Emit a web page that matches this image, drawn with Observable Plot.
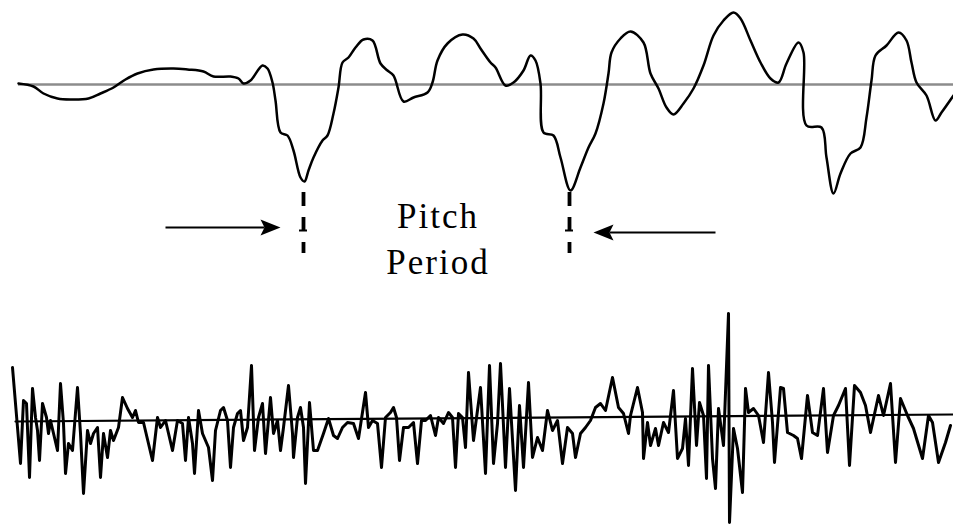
<!DOCTYPE html>
<html><head><meta charset="utf-8">
<script src="https://cdn.jsdelivr.net/npm/d3@7"></script>
<script src="https://cdn.jsdelivr.net/npm/@observablehq/plot@0.6"></script>
<style>body{margin:0;background:#fff} svg{display:block;background:#fff}</style>
</head><body><div id="chart"></div>
<script>
// Upper trace: voiced speech segment (sample index, amplitude)
const speechT = [0,15,25,39,52,70,82,95,107,119,135,155,169,185,195,212,220,225,232,244,249,254,257,262,269,275,282,286,290,295,304,309,315,320,324,330,337,345,354,362,369,375,385,395,409,414,419,429,444,455,462,472,477,487,495,505,512,517,522,525,535,542,552,562,570,577,585,590,593,602,612,625,632,640,648,655,665,675,685,695,705,715,722,732,742,752,760,768,780,785,788,803,808,815,822,832,842,848,853,857,868,880,888,893,898,908,917,923,935];
const speechV = [1,-2,-9,-14,-15,-14,-9,-3,5,11,15,16,15,13,8,8,6,1,4,19,16,2,-16,-48,-51,-66,-93,-97,-86,-73,-56,-51,-29,-3,22,27,37,45,44,21,14,9,-17,-13,-8,2,24,41,50,46,36,22,17,-1,2,14,29,24,1,-48,-51,-73,-106,-83,-63,-49,-19,11,32,46,53,42,11,-4,-23,-30,-19,-4,19,49,64,72,66,44,22,6,2,21,42,32,-41,-43,-73,-109,-89,-69,-63,-33,4,29,39,52,44,22,2,-11,-36,-28,-11];

// Lower trace: prediction residual (sample index, amplitude)
const residualT = [-6,2,5,8,11,14,17,19,21,24,28,30,32,39,42,45,47,50,54,59,62,65,69,72,75,79,82,85,89,92,95,100,104,109,114,117,120,125,134,139,142,147,154,159,164,167,170,174,176,180,184,187,190,194,197,202,205,209,212,215,219,222,225,229,233,236,240,244,247,252,255,259,262,265,270,274,275,279,282,285,287,291,295,299,305,310,315,319,324,329,335,340,347,350,354,359,363,367,372,375,378,381,385,390,395,399,403,407,412,417,420,425,430,434,437,440,444,447,450,455,462,467,471,475,479,482,487,491,497,501,505,510,514,519,524,529,534,539,544,549,554,557,562,567,572,577,582,587,594,600,605,610,612,619,624,625,629,632,637,640,645,650,655,659,664,667,670,674,678,681,685,688,690,694,697,700,705,710,711,715,719,724,727,730,735,740,745,750,754,756,762,765,769,775,779,783,789,794,799,805,809,815,820,827,831,836,842,847,852,860,865,872,877,882,889,895,904,910,914,920,927,932];
const residualV = [53,-43,20,17,-57,32,3,-10,-40,17,3,-13,0,-30,37,-3,-53,-23,-30,33,-13,-73,-10,-23,-13,-7,-57,-13,-37,-10,-20,-7,23,12,3,10,-2,-2,-40,3,-7,0,-30,0,-3,-40,3,-23,-53,10,-13,-20,-27,-60,-10,10,13,0,-47,-7,7,10,-20,-7,55,-30,3,17,-33,23,-13,0,-30,-7,35,-13,-37,3,13,-7,-63,18,-30,-30,-13,2,-15,-18,-7,-2,-3,-18,28,-7,0,-3,-47,3,8,13,3,-40,-7,-7,-2,-43,0,0,5,-15,3,-3,8,3,-47,7,3,-27,48,-20,33,-53,55,-43,-3,57,-47,32,-70,15,-47,38,-37,-17,-30,10,-10,0,-43,-7,-13,-37,-13,-7,0,13,17,10,43,13,7,-13,5,33,8,-38,-2,-25,-8,-25,-2,-12,30,-38,-28,2,-45,52,-25,18,5,-58,55,-38,-68,12,-25,107,-102,-8,-28,-72,32,8,12,5,-22,48,-2,-42,33,32,-12,-15,-18,-38,25,-12,-15,32,-32,5,15,32,-45,35,28,15,-12,25,5,37,-42,22,5,-8,-38,5,-2,-42,-22,-5];

// Annotation
const labels = ["Pitch", "Period"];
const labelLevels = [-132, -178];
const labelCenter = 419.5;
const pitchMarks = [285, 551];
const markTop = -108, markBottom = -169;
const arrowFrom = [147, 697];
const arrowTo = [262, 575];
const arrowLevel = [-143, -148];

const speech = speechT.map((t, i) => ({t, v: speechV[i]}));
const residual = residualT.map((t, i) => ({t, v: residualV[i]}));
const arrows = arrowFrom.map((f, i) => ({from: f, to: arrowTo[i], level: arrowLevel[i], dir: Math.sign(arrowTo[i] - f)}));
const textData = labels.map((s, i) => ({s, y: labelLevels[i]}));

const headRight = {draw(ctx) { ctx.moveTo(0, 0); ctx.lineTo(-20, -8); ctx.lineTo(-16, 0); ctx.lineTo(-20, 8); ctx.closePath(); }};
const headLeft = {draw(ctx) { ctx.moveTo(0, 0); ctx.lineTo(20, -8); ctx.lineTo(16, 0); ctx.lineTo(20, 8); ctx.closePath(); }};

const xScale = {domain: [-18, 935], range: [0, 953], axis: null};

const topPlot = Plot.plot({
  width: 953, height: 300, margin: 0,
  x: xScale,
  y: {domain: [-200, 80], range: [284, 4], axis: null},
  marks: [
    Plot.ruleY([0], {x1: 0, x2: 935, stroke: "#8c8c8c", strokeWidth: 2.5}),
    Plot.line(speech, {x: "t", y: "v", stroke: "black", strokeWidth: 2.5, curve: "catmull-rom", strokeLinejoin: "round"}),
    Plot.ruleX(pitchMarks, {y1: markTop, y2: markBottom, stroke: "black", strokeWidth: 3.8, strokeDasharray: "14 11"}),
    Plot.ruleY(pitchMarks, {x1: d => d - 4, x2: d => d + 4, y: markTop - 38, stroke: "black", strokeWidth: 2}),
    Plot.link(arrows, {x1: "from", x2: d => d.to - 16 * d.dir, y1: "level", y2: "level", stroke: "black", strokeWidth: 2}),
    Plot.dot(arrows.filter(d => d.dir > 0), {x: "to", y: "level", symbol: headRight, fill: "black", stroke: "none"}),
    Plot.dot(arrows.filter(d => d.dir < 0), {x: "to", y: "level", symbol: headLeft, fill: "black", stroke: "none"}),
    Plot.text(textData, {x: () => labelCenter, y: "y", text: "s", fontFamily: "Liberation Serif", fontSize: 35, fill: "black", textAnchor: "middle", lineAnchor: "middle"})
  ]
});

const bottomPlot = Plot.plot({
  width: 953, height: 224, margin: 0,
  x: xScale,
  y: {domain: [-104, 120], range: [224, 0], axis: null},
  marks: [
    Plot.line([{t: -3, v: -1}, {t: 935, v: 6}], {x: "t", y: "v", stroke: "black", strokeWidth: 2.2}),
    Plot.line(residual, {x: "t", y: "v", stroke: "black", strokeWidth: 3, strokeLinejoin: "round"})
  ]
});

topPlot.querySelectorAll("text").forEach(t => t.style.letterSpacing = "2px");
const el = document.getElementById("chart");
el.append(topPlot, bottomPlot);
</script>
</body></html>
